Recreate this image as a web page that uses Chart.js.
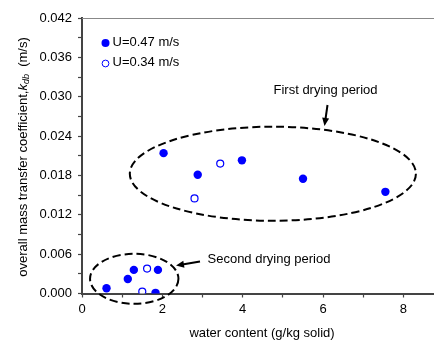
<!DOCTYPE html>
<html>
<head>
<meta charset="utf-8">
<script src="https://cdn.jsdelivr.net/npm/chart.js@4/dist/chart.umd.min.js"></script>
<style>
  html, body { margin: 0; padding: 0; background: #fff; overflow: hidden; }
  canvas { display: block; }
</style>
</head>
<body>
<canvas id="myChart" width="434" height="341"></canvas>
<script>
// water content (g/kg solid) and k_db (m/s) for each air velocity
const fastX = [2.03, 2.88, 3.98, 5.50, 7.55, 0.61, 1.14, 1.29, 1.89, 1.83];
const fastY = [0.0214, 0.0181, 0.0203, 0.0175, 0.0155, 0.0008, 0.0022, 0.0036, 0.0036, 0.0001];
const slowX = [3.44, 2.80, 1.62, 1.50];
const slowY = [0.0198, 0.0145, 0.0038, 0.0003];

const seriesNames = ['U=0.47 m/s', 'U=0.34 m/s'];
const xLabels = [0, 2, 4, 6, 8];
const yLabels = ['0.000', '0.006', '0.012', '0.018', '0.024', '0.030', '0.036', '0.042'];

// drying periods: centre and half-axes in data units
const periods = [
  { name: 'First drying period', cx: 4.75, cy: 0.01826, rx: 3.56, ry: 0.00717 },
  { name: 'Second drying period', cx: 1.30, cy: 0.00224, rx: 1.10, ry: 0.00381 }
];

function toPoints(xs, ys) {
  return xs.map((x, i) => ({ x: x, y: ys[i] }));
}

const FONT = '"Liberation Sans", Arial, sans-serif';
const FS = 13;

const extras = {
  id: 'extras',
  afterDraw(chart) {
    const c = chart.ctx;
    const xs = chart.scales.x, ys = chart.scales.y;
    const area = chart.chartArea;
    c.save();

    // top frame line
    c.strokeStyle = '#888';
    c.lineWidth = 1;
    c.beginPath();
    c.moveTo(area.left, area.top + 0.5);
    c.lineTo(chart.width, area.top + 0.5);
    c.stroke();

    // dashed ellipses round each period
    c.strokeStyle = '#000';
    c.lineWidth = 2;
    c.setLineDash([8, 4]);
    periods.forEach(p => {
      const px = xs.getPixelForValue(p.cx), py = ys.getPixelForValue(p.cy);
      const rx = xs.getPixelForValue(p.cx + p.rx) - px;
      const ry = py - ys.getPixelForValue(p.cy + p.ry);
      c.beginPath();
      c.ellipse(px, py, rx, ry, 0, 0, Math.PI * 2);
      c.stroke();
    });
    c.setLineDash([]);

    // arrows
    function arrow(x1, y1, x2, y2) {
      const a = Math.atan2(y2 - y1, x2 - x1);
      c.lineWidth = 2;
      c.beginPath();
      c.moveTo(x1, y1);
      c.lineTo(x2 - 5 * Math.cos(a), y2 - 5 * Math.sin(a));
      c.stroke();
      c.beginPath();
      c.moveTo(x2, y2);
      c.lineTo(x2 - 8 * Math.cos(a) + 3.5 * Math.sin(a), y2 - 8 * Math.sin(a) - 3.5 * Math.cos(a));
      c.lineTo(x2 - 8 * Math.cos(a) - 3.5 * Math.sin(a), y2 - 8 * Math.sin(a) + 3.5 * Math.cos(a));
      c.closePath();
      c.fillStyle = '#000';
      c.fill();
    }
    arrow(327.5, 105, 324.5, 126);
    arrow(200, 261.5, 176, 265.5);

    c.fillStyle = '#000';
    c.font = FS + 'px ' + FONT;
    c.textBaseline = 'middle';
    c.textAlign = 'left';
    c.fillText(periods[0].name, 273.5, 90);
    c.fillText(periods[1].name, 207.5, 259);

    // legend
    c.fillText(seriesNames[0], 112.5, 42);
    c.fillText(seriesNames[1], 112.5, 62);
    c.beginPath();
    c.arc(105.5, 43, 4, 0, Math.PI * 2);
    c.fillStyle = '#0000ff';
    c.fill();
    c.beginPath();
    c.arc(105.5, 63.5, 3.4, 0, Math.PI * 2);
    c.strokeStyle = '#0000ff';
    c.lineWidth = 1;
    c.stroke();

    // x axis title
    c.fillStyle = '#000';
    c.textAlign = 'center';
    c.fillText('water content (g/kg solid)', 262, 333);

    // y axis title with subscript
    c.translate(23, 157);
    c.rotate(-Math.PI / 2);
    const p1 = 'overall mass transfer coefficient,';
    const p2 = 'k';
    const p3 = 'db';
    const p4 = '  (m/s)';
    c.font = FS + 'px ' + FONT;
    const w1 = c.measureText(p1).width;
    c.font = 'italic ' + FS + 'px ' + FONT;
    const w2 = c.measureText(p2).width;
    c.font = 'italic 9px ' + FONT;
    const w3 = c.measureText(p3).width;
    c.font = FS + 'px ' + FONT;
    const w4 = c.measureText(p4).width;
    let x0 = -(w1 + w2 + w3 + w4) / 2;
    c.textAlign = 'left';
    c.font = FS + 'px ' + FONT;
    c.fillText(p1, x0, 0); x0 += w1;
    c.font = 'italic ' + FS + 'px ' + FONT;
    c.fillText(p2, x0, 0); x0 += w2;
    c.font = 'italic 9px ' + FONT;
    c.fillText(p3, x0, 3); x0 += w3;
    c.font = FS + 'px ' + FONT;
    c.fillText(p4, x0, 0);

    c.restore();
  }
};

const ctx = document.getElementById('myChart').getContext('2d');
const myChart = new Chart(ctx, {
  type: 'scatter',
  data: {
    datasets: [{
      label: seriesNames[0],
      data: toPoints(fastX, fastY),
      backgroundColor: '#0000ff',
      borderColor: '#0000ff',
      borderWidth: 0,
      pointRadius: 4.2
    }, {
      label: seriesNames[1],
      data: toPoints(slowX, slowY),
      backgroundColor: '#ffffff',
      borderColor: '#0000ff',
      borderWidth: 1.2,
      pointRadius: 3.5
    }]
  },
  options: {
    responsive: false,
    animation: false,
    layout: { autoPadding: false, padding: { left: 0, top: 18, right: 0, bottom: 0 } },
    plugins: {
      legend: { display: false },
      tooltip: { enabled: false }
    },
    scales: {
      x: {
        type: 'linear',
        min: 0,
        max: 8.76,
        afterFit: s => { s.height = 47.5; s.paddingLeft = 0; s.paddingRight = 0; },
        border: { color: '#444', width: 2 },
        grid: { drawOnChartArea: false, tickLength: 4, color: '#444', tickWidth: 1.2 },
        ticks: {
          stepSize: 1,
          includeBounds: false,
          padding: 4,
          color: '#000',
          font: { family: FONT, size: FS },
          maxRotation: 0,
          callback: v => xLabels.includes(v) ? String(v) : ''
        }
      },
      y: {
        min: 0,
        max: 0.042,
        afterFit: s => { s.width = 82; s.paddingTop = 0; s.paddingBottom = 0; },
        border: { color: '#444', width: 2 },
        grid: { drawOnChartArea: false, tickLength: 4, color: '#444', tickWidth: 1.2 },
        ticks: {
          stepSize: 0.003,
          padding: 6,
          color: '#000',
          font: { family: FONT, size: FS },
          callback: v => {
            const n = Math.round(v / 0.003);
            return n % 2 === 0 ? yLabels[n / 2] : '';
          }
        }
      }
    }
  },
  plugins: [extras]
});
</script>
</body>
</html>
